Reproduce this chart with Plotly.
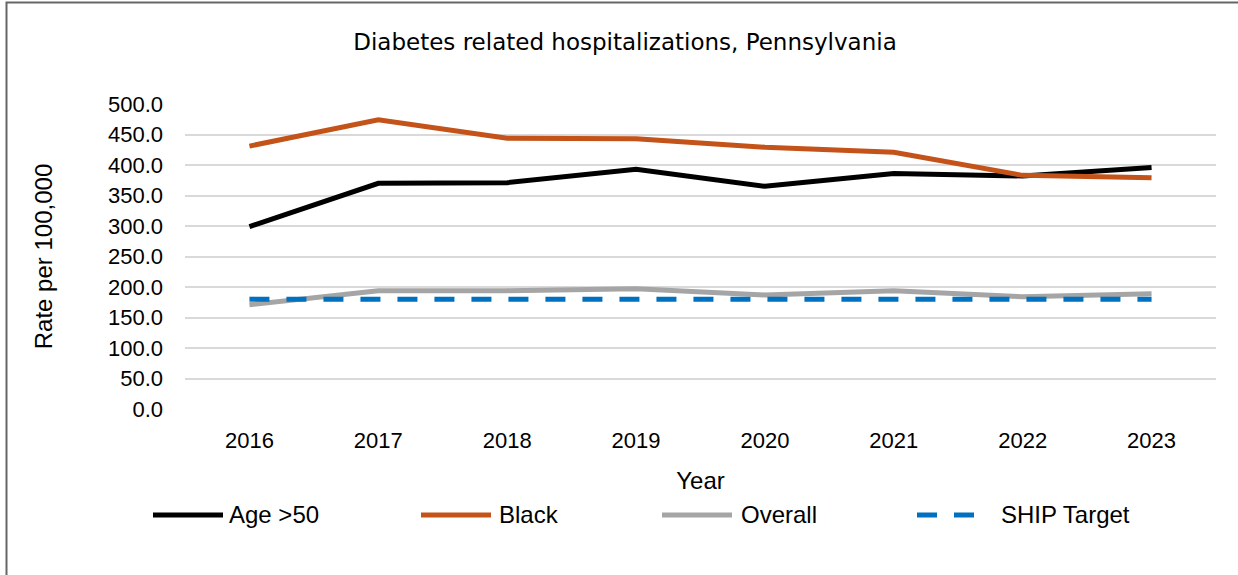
import plotly.graph_objects as go

years = ["2016", "2017", "2018", "2019", "2020", "2021", "2022", "2023"]
age50 = [299, 370, 371, 393, 365, 386, 382, 396]
black = [431, 474, 444, 443, 429, 421, 383, 379]
overall = [171, 194, 194, 197, 187, 194, 184, 189]
ship_target = [180, 180, 180, 180, 180, 180, 180, 180]

series_names = ["Age >50", "Black", "Overall", "SHIP Target"]
series_values = [age50, black, overall, ship_target]
series_colors = ["#000000", "#C4531A", "#A5A5A5", "#0070C0"]
series_dash = ["solid", "solid", "solid", "20px,17px"]

W, H = 1238, 575
L, R, T, B = 185, 1216, 104, 409  # plot area in page pixels


def px_x(p):
    return (p - L) / (R - L)


def px_y(p):
    return (B - p) / (B - T)


fig = go.Figure()
for name, vals, color, dash in zip(series_names, series_values, series_colors, series_dash):
    fig.add_trace(go.Scatter(
        x=years, y=vals, name=name, mode="lines",
        line=dict(color=color, width=5, dash=dash),
        showlegend=False,
    ))

font_main = "Liberation Sans, Arial, sans-serif"

fig.update_layout(
    width=W, height=H,
    margin=dict(l=L, r=W - R, t=T, b=H - B, pad=0),
    paper_bgcolor="white", plot_bgcolor="white",
    font=dict(family=font_main, color="#000000"),
    title=dict(text="Diabetes related hospitalizations, Pennsylvania",
               x=625 / W, xanchor="center", xref="container",
               y=1 - 42 / H, yanchor="middle",
               font=dict(size=23, family="DejaVu Sans, sans-serif", color="#000000")),
    showlegend=False,
)

fig.update_xaxes(
    type="category", range=[-0.5, 7.5],
    showgrid=False, showline=False, zeroline=False,
    ticks="", tickfont=dict(size=22), ticklabelstandoff=16,
    title=dict(text="Year", font=dict(size=24), standoff=20),
)
fig.update_yaxes(
    range=[0, 500], tickvals=[0, 50, 100, 150, 200, 250, 300, 350, 400, 450, 500],
    tickformat=".1f", showgrid=True, gridcolor="#D9D9D9", gridwidth=2,
    zeroline=False, showline=False, ticks="",
    tickfont=dict(size=22), ticklabelstandoff=21,
    title=dict(text="Rate per 100,000", font=dict(size=24), standoff=48),
)

# manual legend (long line samples like the reference)
leg_line_x = [153, 421, 662, 917]
leg_text_x = [227, 497, 739, 999]
leg_y = 515
for name, color, dash, lx, tx in zip(series_names, series_colors, series_dash, leg_line_x, leg_text_x):
    fig.add_shape(type="line", xref="paper", yref="paper",
                  x0=px_x(lx), x1=px_x(lx + 70), y0=px_y(leg_y), y1=px_y(leg_y),
                  line=dict(color=color, width=5, dash=dash))
    fig.add_annotation(text=name, xref="paper", yref="paper",
                       x=px_x(tx), y=px_y(leg_y - 1), xanchor="left", yanchor="middle",
                       showarrow=False, font=dict(size=24, color="#000000"))

# outer chart frame (cropped on the right/bottom like the reference)
fig.add_shape(type="rect", xref="paper", yref="paper",
              x0=px_x(6.5), x1=px_x(1260), y0=px_y(600), y1=px_y(2.5),
              line=dict(color="#666666", width=2), fillcolor="rgba(0,0,0,0)",
              layer="below")

fig.write_html("out.html", config={"displayModeBar": False},
               post_script="document.body.style.margin='0';")
